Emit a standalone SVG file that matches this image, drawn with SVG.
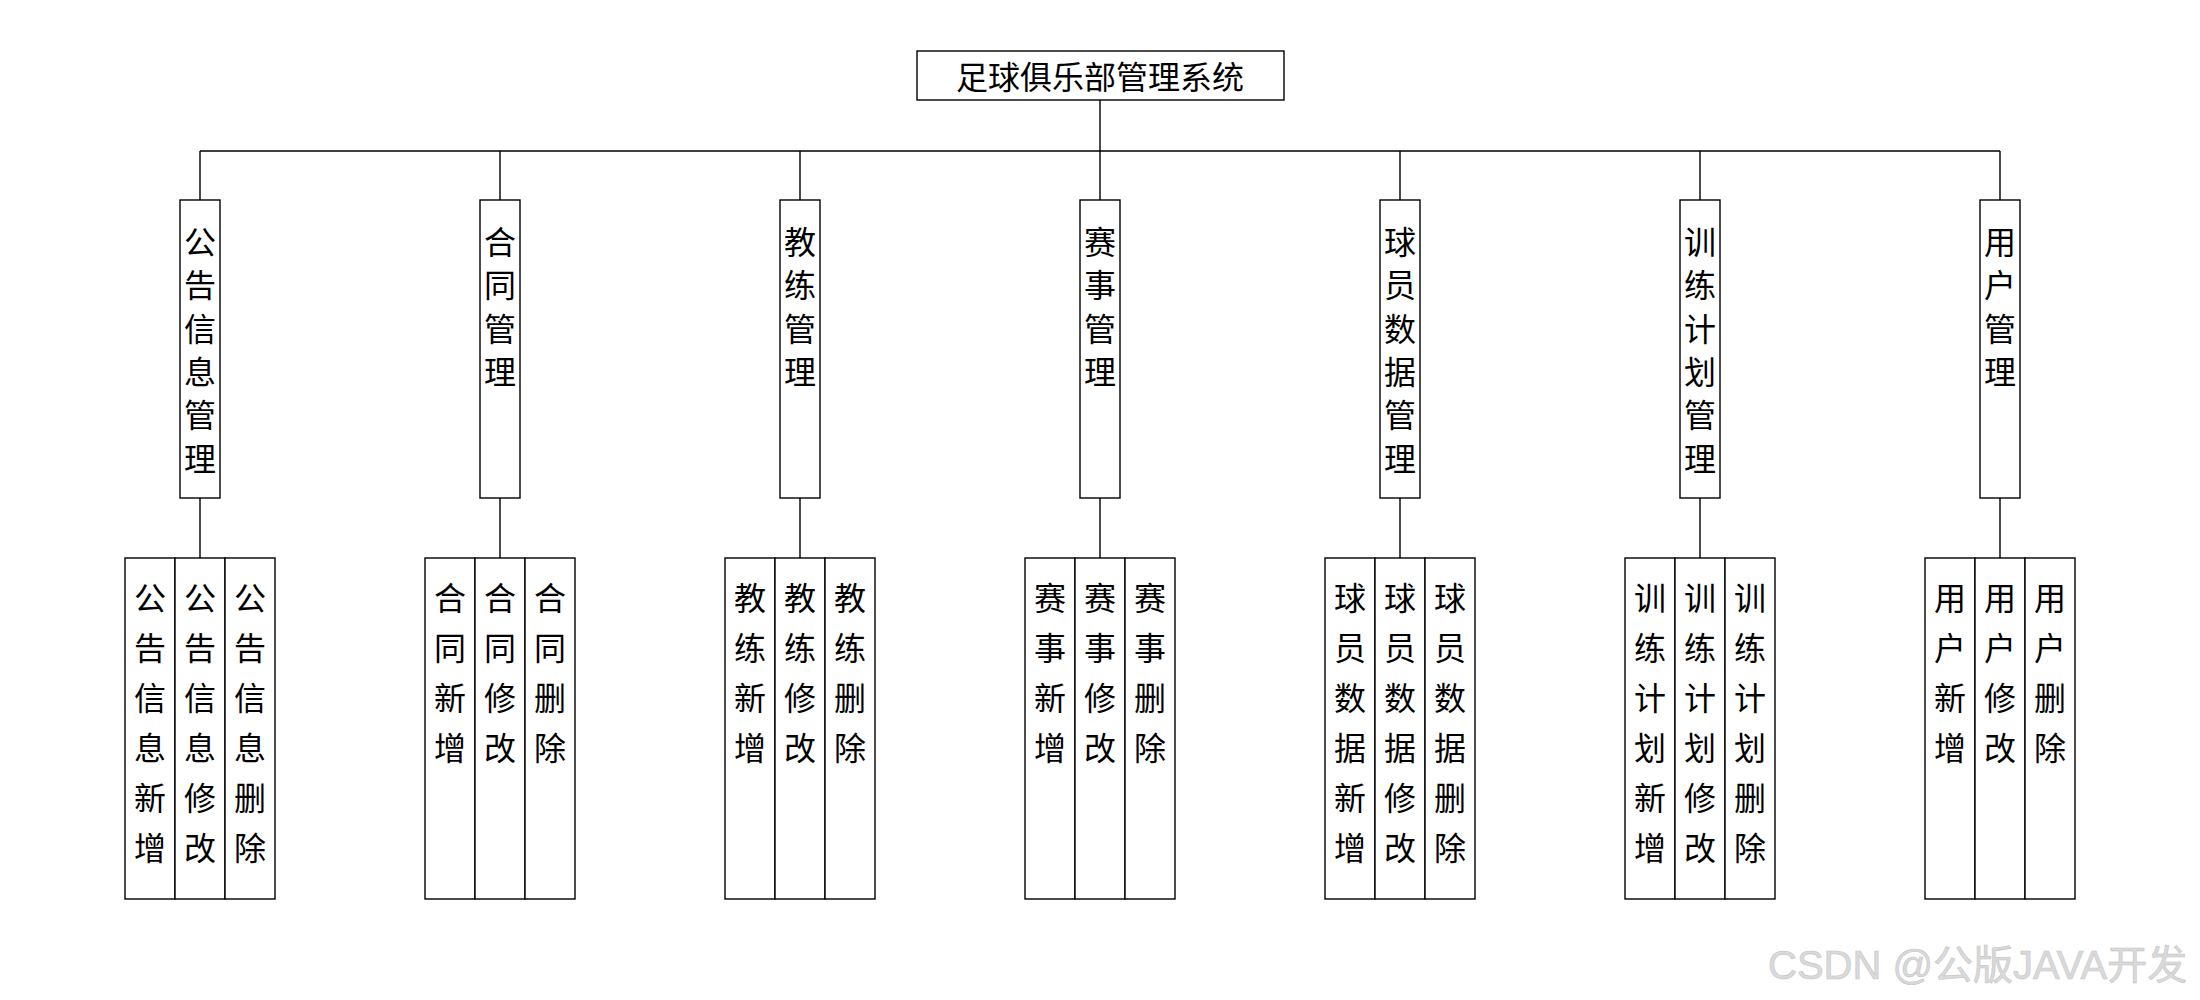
<svg xmlns="http://www.w3.org/2000/svg" width="2200" height="1000" viewBox="0 0 2200 1000">
<style>
.box{fill:#fff;stroke:#000;stroke-width:1.4}
.ln{fill:none;stroke:#000;stroke-width:1.4}
.t{font-family:"Noto Sans CJK SC","Noto Sans",sans-serif;font-size:32px;fill:#000;text-anchor:middle}
.title{font-family:"Noto Sans CJK SC","Noto Sans",sans-serif;font-size:32px;fill:#000;text-anchor:middle}
.wm{font-family:"Liberation Sans","Noto Sans CJK SC",sans-serif;font-size:40px;fill:#dadada;stroke:#c4c4c4;stroke-width:0.6}
</style>
<rect width="2200" height="1000" fill="#fff"/>
<g id="connectors">
<path class="ln" d="M1100 100V200M200 151H2000M200 151V200M500 151V200M800 151V200M1400 151V200M1700 151V200M2000 151V200"/>
<path class="ln" d="M200 498V558M500 498V558M800 498V558M1100 498V558M1400 498V558M1700 498V558M2000 498V558"/>
</g>
<g id="root">
<rect class="box" x="917" y="51" width="367" height="49"/>
<text class="title" x="1100" y="89">足球俱乐部管理系统</text>
</g>
<g id="m1">
<rect class="box" x="180" y="200" width="40" height="298"/>
<text class="t"><tspan x="200" y="254">公</tspan><tspan x="200" y="297">告</tspan><tspan x="200" y="341">信</tspan><tspan x="200" y="384">息</tspan><tspan x="200" y="427">管</tspan><tspan x="200" y="471">理</tspan></text>
</g>
<g id="m2">
<rect class="box" x="480" y="200" width="40" height="298"/>
<text class="t"><tspan x="500" y="254">合</tspan><tspan x="500" y="297">同</tspan><tspan x="500" y="341">管</tspan><tspan x="500" y="384">理</tspan></text>
</g>
<g id="m3">
<rect class="box" x="780" y="200" width="40" height="298"/>
<text class="t"><tspan x="800" y="254">教</tspan><tspan x="800" y="297">练</tspan><tspan x="800" y="341">管</tspan><tspan x="800" y="384">理</tspan></text>
</g>
<g id="m4">
<rect class="box" x="1080" y="200" width="40" height="298"/>
<text class="t"><tspan x="1100" y="254">赛</tspan><tspan x="1100" y="297">事</tspan><tspan x="1100" y="341">管</tspan><tspan x="1100" y="384">理</tspan></text>
</g>
<g id="m5">
<rect class="box" x="1380" y="200" width="40" height="298"/>
<text class="t"><tspan x="1400" y="254">球</tspan><tspan x="1400" y="297">员</tspan><tspan x="1400" y="341">数</tspan><tspan x="1400" y="384">据</tspan><tspan x="1400" y="427">管</tspan><tspan x="1400" y="471">理</tspan></text>
</g>
<g id="m6">
<rect class="box" x="1680" y="200" width="40" height="298"/>
<text class="t"><tspan x="1700" y="254">训</tspan><tspan x="1700" y="297">练</tspan><tspan x="1700" y="341">计</tspan><tspan x="1700" y="384">划</tspan><tspan x="1700" y="427">管</tspan><tspan x="1700" y="471">理</tspan></text>
</g>
<g id="m7">
<rect class="box" x="1980" y="200" width="40" height="298"/>
<text class="t"><tspan x="2000" y="254">用</tspan><tspan x="2000" y="297">户</tspan><tspan x="2000" y="341">管</tspan><tspan x="2000" y="384">理</tspan></text>
</g>

<g id="c1">
<rect class="box" x="125" y="558" width="50" height="341"/><rect class="box" x="175" y="558" width="50" height="341"/><rect class="box" x="225" y="558" width="50" height="341"/>
<text class="t"><tspan x="150" y="610">公</tspan><tspan x="150" y="660">告</tspan><tspan x="150" y="710">信</tspan><tspan x="150" y="760">息</tspan><tspan x="150" y="810">新</tspan><tspan x="150" y="860">增</tspan></text>
<text class="t"><tspan x="200" y="610">公</tspan><tspan x="200" y="660">告</tspan><tspan x="200" y="710">信</tspan><tspan x="200" y="760">息</tspan><tspan x="200" y="810">修</tspan><tspan x="200" y="860">改</tspan></text>
<text class="t"><tspan x="250" y="610">公</tspan><tspan x="250" y="660">告</tspan><tspan x="250" y="710">信</tspan><tspan x="250" y="760">息</tspan><tspan x="250" y="810">删</tspan><tspan x="250" y="860">除</tspan></text>
</g>
<g id="c2">
<rect class="box" x="425" y="558" width="50" height="341"/><rect class="box" x="475" y="558" width="50" height="341"/><rect class="box" x="525" y="558" width="50" height="341"/>
<text class="t"><tspan x="450" y="610">合</tspan><tspan x="450" y="660">同</tspan><tspan x="450" y="710">新</tspan><tspan x="450" y="760">增</tspan></text>
<text class="t"><tspan x="500" y="610">合</tspan><tspan x="500" y="660">同</tspan><tspan x="500" y="710">修</tspan><tspan x="500" y="760">改</tspan></text>
<text class="t"><tspan x="550" y="610">合</tspan><tspan x="550" y="660">同</tspan><tspan x="550" y="710">删</tspan><tspan x="550" y="760">除</tspan></text>
</g>
<g id="c3">
<rect class="box" x="725" y="558" width="50" height="341"/><rect class="box" x="775" y="558" width="50" height="341"/><rect class="box" x="825" y="558" width="50" height="341"/>
<text class="t"><tspan x="750" y="610">教</tspan><tspan x="750" y="660">练</tspan><tspan x="750" y="710">新</tspan><tspan x="750" y="760">增</tspan></text>
<text class="t"><tspan x="800" y="610">教</tspan><tspan x="800" y="660">练</tspan><tspan x="800" y="710">修</tspan><tspan x="800" y="760">改</tspan></text>
<text class="t"><tspan x="850" y="610">教</tspan><tspan x="850" y="660">练</tspan><tspan x="850" y="710">删</tspan><tspan x="850" y="760">除</tspan></text>
</g>
<g id="c4">
<rect class="box" x="1025" y="558" width="50" height="341"/><rect class="box" x="1075" y="558" width="50" height="341"/><rect class="box" x="1125" y="558" width="50" height="341"/>
<text class="t"><tspan x="1050" y="610">赛</tspan><tspan x="1050" y="660">事</tspan><tspan x="1050" y="710">新</tspan><tspan x="1050" y="760">增</tspan></text>
<text class="t"><tspan x="1100" y="610">赛</tspan><tspan x="1100" y="660">事</tspan><tspan x="1100" y="710">修</tspan><tspan x="1100" y="760">改</tspan></text>
<text class="t"><tspan x="1150" y="610">赛</tspan><tspan x="1150" y="660">事</tspan><tspan x="1150" y="710">删</tspan><tspan x="1150" y="760">除</tspan></text>
</g>
<g id="c5">
<rect class="box" x="1325" y="558" width="50" height="341"/><rect class="box" x="1375" y="558" width="50" height="341"/><rect class="box" x="1425" y="558" width="50" height="341"/>
<text class="t"><tspan x="1350" y="610">球</tspan><tspan x="1350" y="660">员</tspan><tspan x="1350" y="710">数</tspan><tspan x="1350" y="760">据</tspan><tspan x="1350" y="810">新</tspan><tspan x="1350" y="860">增</tspan></text>
<text class="t"><tspan x="1400" y="610">球</tspan><tspan x="1400" y="660">员</tspan><tspan x="1400" y="710">数</tspan><tspan x="1400" y="760">据</tspan><tspan x="1400" y="810">修</tspan><tspan x="1400" y="860">改</tspan></text>
<text class="t"><tspan x="1450" y="610">球</tspan><tspan x="1450" y="660">员</tspan><tspan x="1450" y="710">数</tspan><tspan x="1450" y="760">据</tspan><tspan x="1450" y="810">删</tspan><tspan x="1450" y="860">除</tspan></text>
</g>
<g id="c6">
<rect class="box" x="1625" y="558" width="50" height="341"/><rect class="box" x="1675" y="558" width="50" height="341"/><rect class="box" x="1725" y="558" width="50" height="341"/>
<text class="t"><tspan x="1650" y="610">训</tspan><tspan x="1650" y="660">练</tspan><tspan x="1650" y="710">计</tspan><tspan x="1650" y="760">划</tspan><tspan x="1650" y="810">新</tspan><tspan x="1650" y="860">增</tspan></text>
<text class="t"><tspan x="1700" y="610">训</tspan><tspan x="1700" y="660">练</tspan><tspan x="1700" y="710">计</tspan><tspan x="1700" y="760">划</tspan><tspan x="1700" y="810">修</tspan><tspan x="1700" y="860">改</tspan></text>
<text class="t"><tspan x="1750" y="610">训</tspan><tspan x="1750" y="660">练</tspan><tspan x="1750" y="710">计</tspan><tspan x="1750" y="760">划</tspan><tspan x="1750" y="810">删</tspan><tspan x="1750" y="860">除</tspan></text>
</g>
<g id="c7">
<rect class="box" x="1925" y="558" width="50" height="341"/><rect class="box" x="1975" y="558" width="50" height="341"/><rect class="box" x="2025" y="558" width="50" height="341"/>
<text class="t"><tspan x="1950" y="610">用</tspan><tspan x="1950" y="660">户</tspan><tspan x="1950" y="710">新</tspan><tspan x="1950" y="760">增</tspan></text>
<text class="t"><tspan x="2000" y="610">用</tspan><tspan x="2000" y="660">户</tspan><tspan x="2000" y="710">修</tspan><tspan x="2000" y="760">改</tspan></text>
<text class="t"><tspan x="2050" y="610">用</tspan><tspan x="2050" y="660">户</tspan><tspan x="2050" y="710">删</tspan><tspan x="2050" y="760">除</tspan></text>
</g>
<text class="wm" x="1768" y="979">CSDN @公版JAVA开发</text>
</svg>
